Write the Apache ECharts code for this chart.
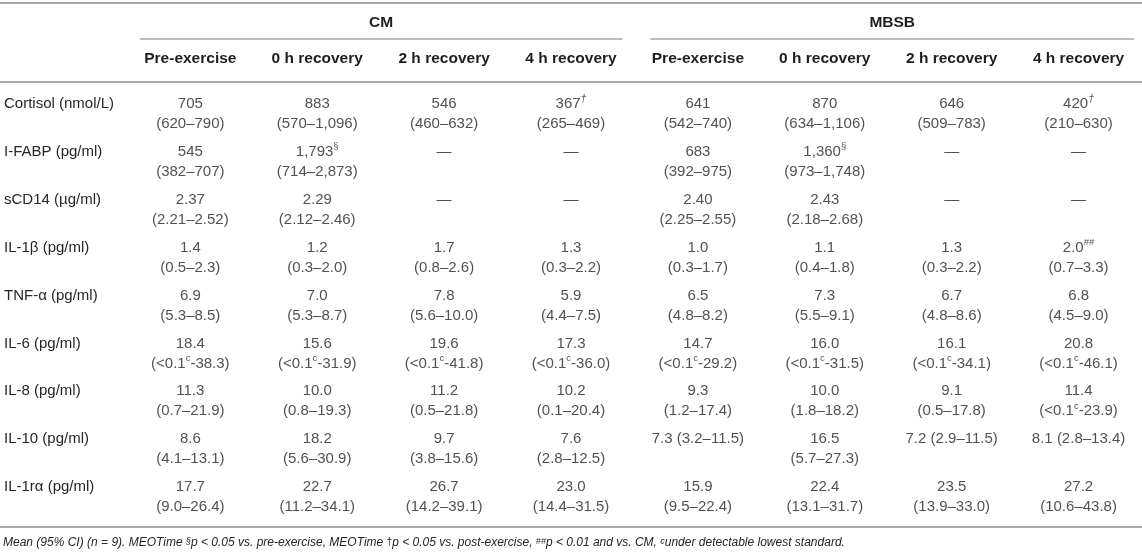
<!DOCTYPE html>
<html>
<head>
<meta charset="utf-8">
<script src="https://cdn.jsdelivr.net/npm/echarts@6/dist/echarts.min.js"></script>
<style>
    html, body { margin: 0; padding: 0; background: #fff; }
    #table { width: 1142px; height: 557px; }
</style>
</head>
<body>
<div id="table"></div>
<script>
// table content, one array per thing
var groups = ['CM', 'MBSB'];
var timepoints = ['Pre-exercise', '0 h recovery', '2 h recovery', '4 h recovery'];
var markers = ['Cortisol (nmol/L)', 'I-FABP (pg/ml)', 'sCD14 (\u00b5g/ml)', 'IL-1\u03b2 (pg/ml)', 'TNF-\u03b1 (pg/ml)',
    'IL-6 (pg/ml)', 'IL-8 (pg/ml)', 'IL-10 (pg/ml)', 'IL-1r\u03b1 (pg/ml)'];

// ^ marks a superscript
var means = [
    ['705', '883', '546', '367^\u2020', '641', '870', '646', '420^\u2020'],
    ['545', '1,793^\u00a7', '\u2014', '\u2014', '683', '1,360^\u00a7', '\u2014', '\u2014'],
    ['2.37', '2.29', '\u2014', '\u2014', '2.40', '2.43', '\u2014', '\u2014'],
    ['1.4', '1.2', '1.7', '1.3', '1.0', '1.1', '1.3', '2.0^##'],
    ['6.9', '7.0', '7.8', '5.9', '6.5', '7.3', '6.7', '6.8'],
    ['18.4', '15.6', '19.6', '17.3', '14.7', '16.0', '16.1', '20.8'],
    ['11.3', '10.0', '11.2', '10.2', '9.3', '10.0', '9.1', '11.4'],
    ['8.6', '18.2', '9.7', '7.6', '7.3', '16.5', '7.2', '8.1'],
    ['17.7', '22.7', '26.7', '23.0', '15.9', '22.4', '23.5', '27.2']
];
var intervals = [
    ['(620\u2013790)', '(570\u20131,096)', '(460\u2013632)', '(265\u2013469)', '(542\u2013740)', '(634\u20131,106)', '(509\u2013783)', '(210\u2013630)'],
    ['(382\u2013707)', '(714\u20132,873)', '', '', '(392\u2013975)', '(973\u20131,748)', '', ''],
    ['(2.21\u20132.52)', '(2.12\u20132.46)', '', '', '(2.25\u20132.55)', '(2.18\u20132.68)', '', ''],
    ['(0.5\u20132.3)', '(0.3\u20132.0)', '(0.8\u20132.6)', '(0.3\u20132.2)', '(0.3\u20131.7)', '(0.4\u20131.8)', '(0.3\u20132.2)', '(0.7\u20133.3)'],
    ['(5.3\u20138.5)', '(5.3\u20138.7)', '(5.6\u201310.0)', '(4.4\u20137.5)', '(4.8\u20138.2)', '(5.5\u20139.1)', '(4.8\u20138.6)', '(4.5\u20139.0)'],
    ['(<0.1^c-38.3)', '(<0.1^c-31.9)', '(<0.1^c-41.8)', '(<0.1^c-36.0)', '(<0.1^c-29.2)', '(<0.1^c-31.5)', '(<0.1^c-34.1)', '(<0.1^c-46.1)'],
    ['(0.7\u201321.9)', '(0.8\u201319.3)', '(0.5\u201321.8)', '(0.1\u201320.4)', '(1.2\u201317.4)', '(1.8\u201318.2)', '(0.5\u201317.8)', '(<0.1^c-23.9)'],
    ['(4.1\u201313.1)', '(5.6\u201330.9)', '(3.8\u201315.6)', '(2.8\u201312.5)', '(3.2\u201311.5)', '(5.7\u201327.3)', '(2.9\u201311.5)', '(2.8\u201313.4)'],
    ['(9.0\u201326.4)', '(11.2\u201334.1)', '(14.2\u201339.1)', '(14.4\u201331.5)', '(9.5\u201322.4)', '(13.1\u201331.7)', '(13.9\u201333.0)', '(10.6\u201343.8)']
];
// cells printed on one line: [row, column]
var oneLine = [[7, 4], [7, 6], [7, 7]];

var footnote = 'Mean (95% CI) (n = 9). MEOTime ^\u00a7p < 0.05 vs. pre-exercise, MEOTime ^\u2020p < 0.05 vs. post-exercise, ^##p < 0.01 and vs. CM, ^cunder detectable lowest standard.';

var textColor = '#262626';
var ruleColor = '#a9a9a9';
var font = '"Liberation Sans", Arial, sans-serif';

function sup(s) {
    return s.replace(/\^([^\-)\s]+?)(?=[\-)\s]|$|p|u)/g, function (m, t) {
        return t == '\u2020' ? '{supi|' + t + '}' : '{sup|' + t + '}';
    });
}

function isOneLine(r, c) {
    for (var i = 0; i < oneLine.length; i++) {
        if (oneLine[i][0] == r && oneLine[i][1] == c) return true;
    }
    return false;
}

// first column holds the marker names
var columns = [''];
for (var g = 0; g < groups.length; g++) {
    for (var t = 0; t < timepoints.length; t++) columns.push(timepoints[t]);
}

var cells = [];
for (var r = 0; r < markers.length; r++) {
    for (var c = 0; c < means[r].length; c++) {
        var txt;
        if (isOneLine(r, c)) txt = sup(means[r][c]) + ' ' + sup(intervals[r][c]) + '\n ';
        else txt = sup(means[r][c]) + '\n' + (intervals[r][c] ? sup(intervals[r][c]) : ' ');
        cells.push({ value: [c + 1, r], txt: txt });
    }
}

var supStyles = {
    sup: { fontSize: 9.5, lineHeight: 11, verticalAlign: 'top', color: textColor, fontFamily: font },
    supi: { fontSize: 10.5, lineHeight: 11, verticalAlign: 'top', fontStyle: 'italic', color: textColor, fontFamily: font }
};

var chart = echarts.init(document.getElementById('table'));

chart.setOption({
    animation: false,
    grid: { left: -1, right: -5, top: 90, height: 431 },
    xAxis: {
        type: 'category',
        position: 'top',
        data: columns,
        axisLine: { show: false },
        axisTick: { show: false },
        axisLabel: {
            interval: 0,
            margin: 23,
            color: '#1e1e1e',
            fontWeight: 'bold',
            fontSize: 15.5,
            fontFamily: font
        }
    },
    yAxis: {
        type: 'category',
        inverse: true,
        data: markers,
        axisLine: { show: false },
        axisTick: { show: false },
        splitLine: { show: false },
        axisLabel: {
            inside: true,
            margin: 4,
            interval: 0,
            color: textColor,
            fontSize: 15,
            lineHeight: 20,
            fontFamily: font,
            // keep the name on the first of the two lines
            formatter: function (v) { return v + '\n '; }
        }
    },
    series: [{
        type: 'scatter',
        symbolSize: 1,
        itemStyle: { color: 'rgba(0,0,0,0)' },
        data: cells,
        label: {
            show: true,
            position: 'inside',
            color: textColor,
            fontSize: 15,
            lineHeight: 20,
            fontFamily: font,
            align: 'center',
            formatter: function (p) { return p.data.txt; },
            rich: supStyles
        }
    }]
});

// rules and group headings placed from the axes
var x1 = chart.convertToPixel({ xAxisIndex: 0 }, 1);
var x4 = chart.convertToPixel({ xAxisIndex: 0 }, 4);
var x5 = chart.convertToPixel({ xAxisIndex: 0 }, 5);
var x8 = chart.convertToPixel({ xAxisIndex: 0 }, 8);
var band = chart.convertToPixel({ xAxisIndex: 0 }, 2) - x1;
var yFirst = chart.convertToPixel({ yAxisIndex: 0 }, 0);
var yLast = chart.convertToPixel({ yAxisIndex: 0 }, markers.length - 1);

var cmL = x1 - band / 2 + 13, cmR = x4 + band / 2 - 12;
var mbL = x5 - band / 2 + 16, mbR = Math.min(x8 + band / 2 - 8, 1139);

function rule(xa, xb, y, w) {
    return { type: 'line', shape: { x1: xa, y1: y, x2: xb, y2: y }, style: { stroke: ruleColor, lineWidth: w }, silent: true };
}
function heading(text, x) {
    return {
        type: 'text', x: x, y: 23, silent: true,
        style: { text: text, fill: '#1e1e1e', font: 'bold 15.5px ' + font, align: 'center', verticalAlign: 'middle' }
    };
}

chart.setOption({
    graphic: [
        rule(0, 1142, 3, 2),
        rule(cmL, cmR, 39, 1.5),
        rule(mbL, mbR, 39, 1.5),
        rule(0, 1142, yFirst - 32, 2),
        rule(0, 1142, yLast + 30, 2),
        heading(groups[0], (cmL + cmR) / 2),
        heading(groups[1], (mbL + mbR) / 2),
        {
            type: 'text', x: 3, y: yLast + 46, silent: true,
            style: {
                text: sup(footnote),
                fill: textColor,
                font: 'italic 12px ' + font,
                verticalAlign: 'middle',
                rich: {
                    sup: { fontSize: 9, lineHeight: 9, verticalAlign: 'top', fill: textColor, fontFamily: font, fontStyle: 'italic' },
                    supi: { fontSize: 10, lineHeight: 9, verticalAlign: 'top', fill: textColor, fontFamily: font }
                }
            }
        }
    ]
});
</script>
</body>
</html>
